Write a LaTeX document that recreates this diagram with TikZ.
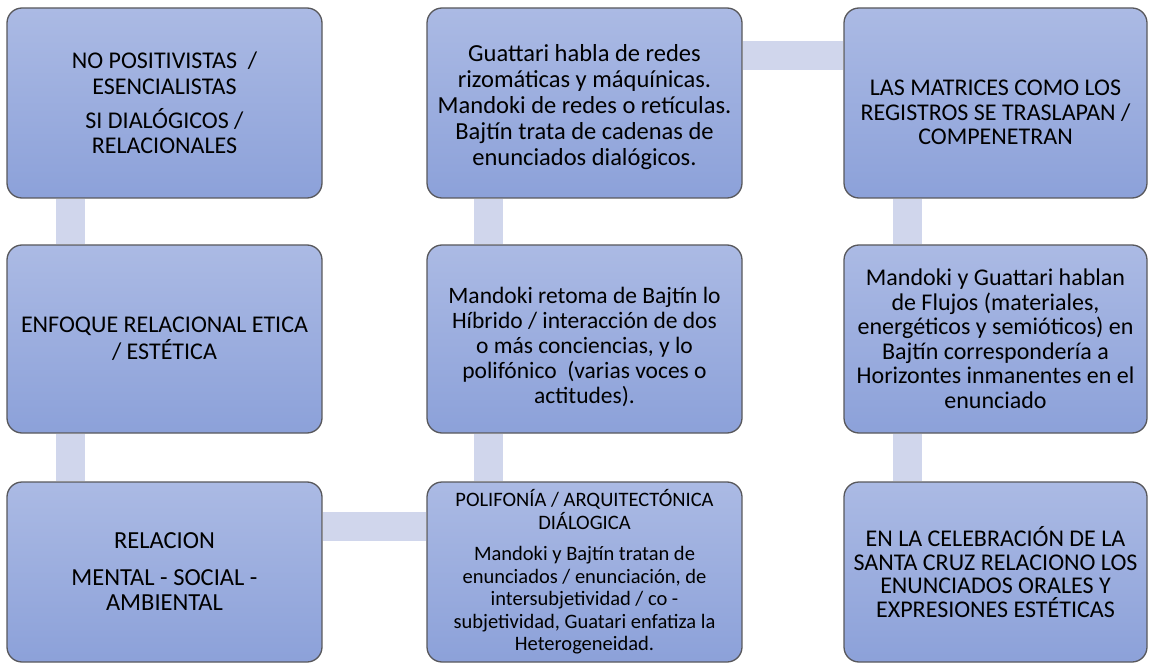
\documentclass[tikz,border=0pt]{standalone}
\usepackage{fontspec}
\setmainfont{Carlito}
\usetikzlibrary{backgrounds}
\definecolor{boxtop}{RGB}{171,186,228}
\definecolor{boxbot}{RGB}{140,161,217}
\definecolor{boxline}{RGB}{88,88,92}
\definecolor{connc}{RGB}{208,214,236}
\tikzset{
  card/.style={rectangle, rounded corners=15pt, draw=boxline, line width=1.3pt,
    top color=boxtop, bottom color=boxbot, align=center, inner sep=2pt, text=black},
  colA/.style={card, minimum width=315pt},
  colB/.style={card, minimum width=315pt},
  colC/.style={card, minimum width=303pt},
  link/.style={draw=connc, line width=29pt}
}
\begin{document}
\begin{tikzpicture}[x=1pt,y=-1pt]
\useasboundingbox (0,0) rectangle (1149,663);
% row 1
\node[colA, minimum height=190pt, font={\fontsize{24}{25.5}\selectfont}] (a1) at (164.5,103)
  {NO POSITIVISTAS~~/\\ESENCIALISTAS\\[8.5pt]SI DIALÓGICOS /\\RELACIONALES};
\node[colB, minimum height=190pt, font={\fontsize{24.5}{26}\selectfont}] (b1) at (584.5,103)
  {\rule{0pt}{26pt}Guattari habla de redes\\rizomáticas y máquínicas.\\Mandoki de redes o retículas.\\Bajtín trata de cadenas de\\enunciados dialógicos.};
\node[colC, minimum height=190pt, font={\fontsize{24}{24.5}\selectfont}] (c1) at (995.5,103)
  {\rule{0pt}{35pt}LAS MATRICES COMO LOS\\REGISTROS SE TRASLAPAN /\\COMPENETRAN};
% row 2
\node[colA, minimum height=188pt, font={\fontsize{24}{27}\selectfont}] (a2) at (164.5,339)
  {ENFOQUE RELACIONAL ETICA\\/ ESTÉTICA};
\node[colB, minimum height=188pt, font={\fontsize{23.5}{25}\selectfont}] (b2) at (584.5,339)
  {\rule{0pt}{32pt}Mandoki retoma de Bajtín lo\\Híbrido / interacción de dos\\o más conciencias, y lo\\polifónico~ (varias voces o\\actitudes).};
\node[colC, minimum height=188pt, font={\fontsize{24}{24.5}\selectfont}] (c2) at (995.5,339)
  {Mandoki y Guattari hablan\\de Flujos (materiales,\\energéticos y semióticos) en\\Bajtín correspondería a\\Horizontes inmanentes en el\\enunciado};
% row 3
\node[colA, minimum height=180pt, font={\fontsize{24.5}{25.5}\selectfont}] (a3) at (164.5,572)
  {RELACION\\[11pt]MENTAL - SOCIAL -\\AMBIENTAL};
\node[colB, minimum height=180pt, font={\fontsize{20.5}{22.5}\selectfont}] (b3) at (584.5,572)
  {POLIFONÍA / ARQUITECTÓNICA\\DIÁLOGICA\\[9pt]Mandoki y Bajtín tratan de\\enunciados / enunciación, de\\intersubjetividad / co -\\subjetividad, Guatari enfatiza la\\Heterogeneidad.};
\node[colC, minimum height=180pt, font={\fontsize{24}{23.5}\selectfont}] (c3) at (995.5,572)
  {EN LA CELEBRACIÓN DE LA\\SANTA CRUZ RELACIONO LOS\\ENUNCIADOS ORALES Y\\EXPRESIONES ESTÉTICAS};
\begin{scope}[on background layer]
  \draw[link] ([xshift=64.5pt]a1.south west) -- ([xshift=64.5pt]a2.north west);
  \draw[link] ([xshift=64.5pt]a2.south west) -- ([xshift=64.5pt]a3.north west);
  \draw[link] ([yshift=-45.5pt]a3.north east) -- ([yshift=-45.5pt]b3.north west);
  \draw[link] ([xshift=62pt]b3.north west) -- ([xshift=62pt]b2.south west);
  \draw[link] ([xshift=62pt]b2.north west) -- ([xshift=62pt]b1.south west);
  \draw[link] ([yshift=-48.5pt]b1.north east) -- ([yshift=-48.5pt]c1.north west);
  \draw[link] ([xshift=64pt]c1.south west) -- ([xshift=64pt]c2.north west);
  \draw[link] ([xshift=64pt]c2.south west) -- ([xshift=64pt]c3.north west);
\end{scope}
\end{tikzpicture}
\end{document}
